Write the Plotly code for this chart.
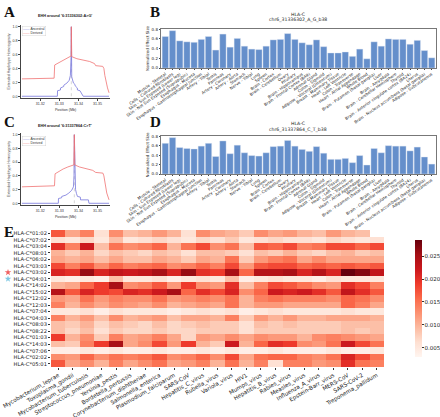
import plotly.graph_objects as go
import plotly.colors as pc

W, H = 440, 417
def fx(px): return px / W
def fy(py): return 1 - py / H

# ---------------- Panel A / C : EHH ----------------
a_core = 31.336302
a_anc_pos = [31.3105, 31.3290, 31.3291, 31.3306, 31.3307, 31.3323, 31.3324, 31.3340, 31.3352, 31.3358, 31.33615, 31.336302, 31.3365, 31.3372, 31.3374, 31.3382, 31.3383, 31.3394, 31.3395, 31.3408, 31.3421, 31.3425, 31.3560]
a_anc_ehh = [0.0, 0.0, 0.08, 0.09, 0.12, 0.14, 0.16, 0.19, 0.23, 0.30, 0.55, 1.0, 0.28, 0.22, 0.19, 0.17, 0.15, 0.12, 0.09, 0.08, 0.03, 0.0, 0.0]
a_der_pos = [31.3105, 31.3200, 31.3273, 31.3276, 31.3290, 31.3307, 31.3330, 31.3345, 31.3358, 31.3362, 31.336302, 31.3365, 31.3392, 31.3425, 31.3459, 31.3484, 31.3490, 31.3527, 31.3533, 31.3538, 31.3543, 31.3552, 31.3560]
a_der_ehh = [0.25, 0.255, 0.26, 0.45, 0.47, 0.50, 0.53, 0.55, 0.57, 0.58, 1.0, 0.57, 0.54, 0.52, 0.50, 0.47, 0.44, 0.43, 0.40, 0.30, 0.22, 0.12, 0.05]

c_core = 31.337864
c_anc_pos = [31.3105, 31.3295, 31.3296, 31.3312, 31.3313, 31.3335, 31.3350, 31.3365, 31.3374, 31.3377, 31.337864, 31.3381, 31.3385, 31.3390, 31.3395, 31.3410, 31.3411, 31.3452, 31.3455, 31.3560]
c_anc_ehh = [0.0, 0.0, 0.07, 0.08, 0.10, 0.12, 0.15, 0.19, 0.24, 0.40, 1.0, 0.35, 0.20, 0.14, 0.10, 0.09, 0.05, 0.05, 0.0, 0.0]
c_der_pos = [31.3105, 31.3275, 31.3278, 31.3295, 31.3320, 31.3345, 31.3362, 31.3376, 31.337864, 31.3381, 31.3405, 31.3440, 31.3475, 31.3490, 31.3528, 31.3533, 31.3540, 31.3548, 31.3560]
c_der_ehh = [0.24, 0.255, 0.43, 0.46, 0.50, 0.53, 0.55, 0.56, 1.0, 0.56, 0.53, 0.50, 0.48, 0.45, 0.44, 0.40, 0.25, 0.15, 0.05]

ehh_xticks = [31.32, 31.33, 31.34, 31.35]
ehh_yticks = [0.0, 0.2, 0.4, 0.6, 0.8, 1.0]

# ---------------- Panel B / D : eQTL bars ----------------
tissues = [
    "Muscle - Skeletal", "Cells - Cultured fibroblasts", "Skin - Sun Exposed (Lower leg)",
    "Skin - Not Sun Exposed (Suprapubic)", "Esophagus - Mucosa", "Esophagus - Gastroesophageal Junction",
    "Artery - Tibial", "Testis", "Pancreas", "Artery - Coronary", "Artery - Aorta", "Stomach",
    "Nerve - Tibial", "Lung", "Spleen", "Brain - Cortex", "Brain - Cerebellum", "Ovary",
    "Pituitary", "Brain - Hippocampus", "Brain - Frontal Cortex (BA9)", "Adrenal Gland",
    "Colon - Sigmoid", "Adipose - Visceral (Omentum)", "Breast - Mammary Tissue",
    "Heart - Left Ventricle", "Colon - Transverse", "Heart - Atrial Appendage", "Whole Blood",
    "Brain - Putamen (basal ganglia)", "Liver", "Brain - Amygdala", "Brain - Cerebellar Hemisphere",
    "Thyroid", "Brain - Anterior cingulate cortex (BA24)", "Uterus",
    "Brain - Nucleus accumbens (basal ganglia)", "Adipose - Subcutaneous",
]
nes_b = [0.65, 0.77, 0.56, 0.54, 0.53, 0.59, 0.65, 0.37, 0.70, 0.43, 0.61, 0.45, 0.39, 0.38,
         0.45, 0.58, 0.59, 0.71, 0.59, 0.52, 0.48, 0.58, 0.44, 0.31, 0.31, 0.33, 0.24, 0.39,
         0.19, 0.54, 0.45, 0.60, 0.59, 0.59, 0.49, 0.57, 0.36, 0.21]
nes_d = [0.65, 0.77, 0.56, 0.54, 0.53, 0.59, 0.65, 0.37, 0.70, 0.43, 0.61, 0.45, 0.39, 0.38,
         0.45, 0.58, 0.59, 0.71, 0.59, 0.52, 0.48, 0.58, 0.44, 0.31, 0.31, 0.33, 0.24, 0.39,
         0.19, 0.54, 0.45, 0.60, 0.59, 0.59, 0.49, 0.57, 0.36, 0.21]
bar_yticks = [0.0, 0.2, 0.4, 0.6, 0.8]

# ---------------- Panel E : heatmap ----------------
alleles = ["HLA-C*01:02", "HLA-C*07:02", "HLA-C*03:04", "HLA-C*08:01", "HLA-C*06:02",
           "HLA-C*03:03", "HLA-C*03:02", "HLA-C*04:01", "HLA-C*14:02", "HLA-C*15:02",
           "HLA-C*12:02", "HLA-C*12:03", "HLA-C*07:04", "HLA-C*04:03", "HLA-C*08:03",
           "HLA-C*08:22", "HLA-C*01:03", "HLA-C*14:03", "HLA-C*07:06", "HLA-C*02:02",
           "HLA-C*05:01"]
pathogens = ["Mycobacterium_leprae", "Toxoplasma_gondii", "Mycobacterium_tuberculosis",
             "Streptococcus_pneumoniae", "Yersinia_pestis", "Bordetella_pertussis",
             "Corynebacterium_diphtheriae", "Salmonella_enterica", "Plasmodium_falciparum",
             "SARS-CoV", "Hepatitis_C_virus", "Rubella_virus", "Variola_virus", "HIV1",
             "Mumps_virus", "Hepatitis_B_virus", "Rabies_virus", "Measles_virus",
             "Influenza_A_virus", "Epstein-Barr_virus", "MERS-CoV", "SARS-CoV-2",
             "Treponema_pallidum"]
heat_values = [
    [0.017,0.011,0.014,0.006,0.013,0.009,0.010,0.012,0.010,0.006,0.013,0.011,0.010,0.008,0.013,0.011,0.012,0.010,0.009,0.012,0.010,0.009,None],
    [0.006,0.005,0.007,0.005,0.009,0.005,0.006,0.007,0.006,0.005,0.007,0.006,0.008,0.005,0.006,0.007,0.006,0.006,0.005,0.007,0.006,0.005,0.006],
    [0.020,0.014,0.022,0.009,0.015,0.013,0.014,0.016,0.010,0.015,0.018,0.013,0.015,0.009,0.017,0.016,0.018,0.014,0.015,0.018,0.018,0.016,0.018],
    [0.010,0.008,0.010,0.007,0.009,0.008,0.007,0.009,0.008,0.006,0.009,0.009,0.008,0.006,0.009,0.008,0.010,0.008,0.007,0.009,0.010,0.008,0.009],
    [0.011,0.010,0.011,0.009,0.011,0.009,0.009,0.011,0.010,0.008,0.011,0.010,0.015,0.008,0.012,0.014,0.015,0.011,0.013,0.011,0.011,0.011,0.011],
    [0.018,0.014,0.017,0.013,0.016,0.014,0.015,0.016,0.013,0.014,0.016,0.014,0.018,0.012,0.017,0.018,0.018,0.016,0.017,0.016,0.017,0.016,0.017],
    [0.021,0.020,0.026,0.021,0.023,0.022,0.023,0.025,0.021,0.026,0.020,0.019,0.025,0.016,0.024,0.024,0.025,0.021,0.024,0.021,0.0285,0.027,0.023],
    [0.005,0.004,0.005,0.004,0.009,0.005,0.005,0.006,0.004,0.005,0.006,0.005,0.009,0.004,0.005,0.006,0.005,0.005,0.004,0.006,0.005,0.005,0.005],
    [0.010,0.011,0.016,0.019,0.025,0.013,0.014,0.017,0.012,0.019,0.013,0.012,0.020,0.009,0.014,0.018,0.017,0.015,0.013,0.012,0.020,0.018,0.014],
    [0.024,0.017,0.021,0.019,0.018,0.021,0.020,0.022,0.025,0.016,0.020,0.018,0.021,0.013,0.016,0.022,0.021,0.022,0.020,0.017,0.023,0.020,0.017],
    [0.012,0.011,0.015,0.012,0.014,0.013,0.013,0.015,0.012,0.013,0.014,0.013,0.015,0.010,0.014,0.015,0.014,0.014,0.014,0.013,0.016,0.015,0.013],
    [0.014,0.010,0.013,0.011,0.013,0.012,0.011,0.013,0.010,0.011,0.012,0.011,0.015,0.010,0.012,0.012,0.011,0.011,0.011,0.011,0.016,0.014,0.011],
    [0.005,0.005,0.006,0.004,0.006,0.005,0.005,0.005,0.004,0.005,0.006,0.005,0.006,0.004,0.005,0.006,0.005,0.005,0.005,0.005,0.006,0.005,0.005],
    [0.014,0.010,0.012,0.009,0.013,0.010,0.011,0.012,0.009,0.011,0.011,0.010,0.014,0.008,0.012,0.010,0.012,0.010,0.010,0.011,0.011,0.011,0.010],
    [0.009,0.008,0.010,0.007,0.009,0.008,0.007,0.009,0.007,0.008,0.009,0.008,0.008,0.006,0.009,0.008,0.009,0.008,0.008,0.008,0.009,0.009,0.009],
    [0.009,0.007,0.009,0.006,0.008,0.007,0.007,0.008,0.007,0.007,0.008,0.008,0.008,0.006,0.008,0.008,0.008,0.008,0.008,0.008,0.009,0.008,0.009],
    [0.019,0.010,0.013,0.008,0.014,0.011,0.012,0.014,0.011,0.007,0.012,0.011,0.013,0.011,0.013,0.012,0.012,0.010,0.013,0.014,0.013,0.012,0.011],
    [0.009,0.008,0.014,0.019,0.025,0.011,0.013,0.018,0.012,0.019,0.010,0.008,0.022,0.010,0.016,0.020,0.019,0.013,0.012,0.015,0.022,0.018,0.015],
    [0.004,0.004,0.005,0.004,0.005,0.004,0.004,0.005,0.004,0.004,0.005,0.004,0.005,0.004,0.004,0.005,0.004,0.004,0.004,0.005,0.004,0.004,0.005],
    [0.013,0.012,0.016,0.013,0.015,0.014,0.015,0.017,0.013,0.014,0.016,0.013,0.018,0.011,0.015,0.016,0.016,0.014,0.013,0.015,0.021,0.018,0.015],
    [0.017,0.011,0.013,0.010,0.014,0.011,0.013,0.015,0.011,0.012,0.014,0.010,0.015,0.010,0.014,0.006,0.014,0.014,0.012,0.013,0.020,0.015,0.014],
]
cbar_ticks = [0.005, 0.010, 0.015, 0.020, 0.025]
starred_alleles = ["HLA-C*03:02", "HLA-C*04:01"]
star_colors = ["#f06060", "#7ec8e3"]

BLUE_L = "#7676dc"
RED_L = "#f07272"
BAR_C = "#658fcb"
MPL = "DejaVu Sans"
RF = "Liberation Sans"

fig = go.Figure()

# EHH traces
for core, apos, aehh, dpos, dehh, xa, ya in [
    (a_core, a_anc_pos, a_anc_ehh, a_der_pos, a_der_ehh, "x", "y"),
    (c_core, c_anc_pos, c_anc_ehh, c_der_pos, c_der_ehh, "x3", "y3"),
]:
    fig.add_trace(go.Scatter(x=[core, core], y=[0, 1], mode="lines",
                             line=dict(color="#bbbbbb", width=0.6, dash="dot"),
                             xaxis=xa, yaxis=ya, showlegend=False, hoverinfo="skip"))
    fig.add_trace(go.Scatter(x=apos, y=aehh, mode="lines", line=dict(color=BLUE_L, width=0.8),
                             xaxis=xa, yaxis=ya, showlegend=False, name="Ancestral"))
    fig.add_trace(go.Scatter(x=dpos, y=dehh, mode="lines", line=dict(color=RED_L, width=0.8),
                             xaxis=xa, yaxis=ya, showlegend=False, name="Derived"))

# Bars
fig.add_trace(go.Bar(x=tissues, y=nes_b, marker=dict(color=BAR_C, line=dict(color="#dfe7f3", width=0.4)),
                     xaxis="x2", yaxis="y2", showlegend=False))
fig.add_trace(go.Bar(x=tissues, y=nes_d, marker=dict(color=BAR_C, line=dict(color="#dfe7f3", width=0.4)),
                     xaxis="x4", yaxis="y4", showlegend=False))

# Heatmap
fig.add_trace(go.Heatmap(
    z=heat_values, x=pathogens, y=alleles, colorscale=pc.sequential.Reds,
    zmin=0.003, zmax=0.0285, xaxis="x5", yaxis="y5", hoverongaps=False,
    colorbar=dict(x=fx(405), xanchor="left", y=fy(230), yanchor="top",
                  len=137 / H, lenmode="fraction", thickness=7, outlinewidth=0,
                  tickvals=cbar_ticks, ticktext=[f"{t:.3f}" for t in cbar_ticks],
                  ticks="outside", ticklen=2, tickwidth=0.6, tickcolor="#333",
                  tickfont=dict(size=5.5, family=MPL, color="#222")),
))
fig.add_trace(go.Scatter(x=[0.5] * len(starred_alleles), y=starred_alleles, mode="markers",
                         marker=dict(symbol="star", size=5, color=star_colors),
                         xaxis="x6", yaxis="y5", showlegend=False))

ehh_x = dict(range=[31.3100, 31.3565], tickvals=ehh_xticks, ticktext=[f"{t:.2f}" for t in ehh_xticks],
             showline=True, linecolor="#444", linewidth=0.5, ticks="outside", ticklen=2, tickwidth=0.5,
             tickcolor="#444", tickfont=dict(size=3.6, family=RF, color="#333"), showgrid=False, zeroline=False,
             automargin=False,
             title=dict(text="Position (Mb)", font=dict(size=3.6, family=RF, color="#333"), standoff=3))
ehh_y = dict(range=[-0.025, 1.025], tickvals=ehh_yticks, ticktext=[f"{t:.1f}" for t in ehh_yticks],
             showline=True, linecolor="#444", linewidth=0.5, ticks="outside", ticklen=2, tickwidth=0.5,
             tickcolor="#444", tickfont=dict(size=3.6, family=RF, color="#333"), showgrid=False, zeroline=False,
             automargin=False,
             title=dict(text="Extended Haplotype Homozygosity", font=dict(size=3.6, family=RF, color="#333"), standoff=2))
bar_x = dict(type="category", range=[-0.6, 37.6], tickangle=-35, showline=True, mirror=True,
             linecolor="#777", linewidth=0.5, ticks="outside", ticklen=1.5, tickwidth=0.4, tickcolor="#444",
             tickfont=dict(size=4, family=MPL, color="#222"), showgrid=False, automargin=False)
bar_y = dict(range=[0, 0.805], tickvals=bar_yticks, ticktext=[f"{t:.1f}" for t in bar_yticks],
             showline=True, mirror=True, linecolor="#777", linewidth=0.5, ticks="outside", ticklen=1.5,
             tickwidth=0.4, tickcolor="#444", tickfont=dict(size=4, family=MPL, color="#222"),
             showgrid=False, zeroline=False, automargin=False,
             title=dict(text="Normalized Effect Size", font=dict(size=4, family=MPL, color="#222"), standoff=2))

layout = dict(
    width=W, height=H, margin=dict(l=0, r=0, t=0, b=0, autoexpand=False),
    paper_bgcolor="white", plot_bgcolor="white",
    bargap=0.12, showlegend=False,
    xaxis=dict(ehh_x, domain=[fx(21), fx(110)], anchor="y"),
    yaxis=dict(ehh_y, domain=[fy(98), fy(25)], anchor="x"),
    xaxis3=dict(ehh_x, domain=[fx(21), fx(110)], anchor="y3"),
    yaxis3=dict(ehh_y, domain=[fy(205), fy(133)], anchor="x3"),
    xaxis2=dict(bar_x, domain=[fx(161), fx(436)], anchor="y2"),
    yaxis2=dict(bar_y, domain=[fy(68), fy(29)], anchor="x2"),
    xaxis4=dict(bar_x, domain=[fx(161), fx(436)], anchor="y4"),
    yaxis4=dict(bar_y, domain=[fy(174), fy(136)], anchor="x4"),
    xaxis5=dict(domain=[fx(51), fx(384)], anchor="y5", tickangle=-30, ticks="outside", ticklen=2,
                tickwidth=0.6, tickcolor="#333", tickfont=dict(size=5.6, family=MPL, color="#222"),
                showgrid=False, showline=False, zeroline=False, automargin=False),
    yaxis5=dict(domain=[fy(367), fy(230)], anchor="x5", autorange="reversed", ticks="outside", ticklen=2,
                tickwidth=0.6, tickcolor="#333", tickfont=dict(size=5.2, family=MPL, color="#222"),
                showgrid=False, showline=False, zeroline=False, automargin=False),
    xaxis6=dict(domain=[fx(4), fx(12)], anchor="y5", range=[0, 1], visible=False, automargin=False),
)
fig.update_layout(**layout)

ann = []
def text(x, y, s, size, fam=MPL, bold=False, color="#222", xa="center", ya="middle"):
    ann.append(dict(x=fx(x), y=fy(y), xref="paper", yref="paper", text=(f"<b>{s}</b>" if bold else s),
                    showarrow=False, xanchor=xa, yanchor=ya, font=dict(size=size, family=fam, color=color)))

for L, (x, y) in zip("ABCDE", [(2, 2), (148, 2), (2, 112), (148, 112), (2, 222)]):
    text(x, y, L, 15, fam="Liberation Serif", bold=True, color="#111", xa="left", ya="top")

text(65, 16, "EHH around '6:31336302:A&gt;G'", 3.8, fam=RF, bold=True)
text(65, 126, "EHH around '6:31337864:C&gt;T'", 3.8, fam=RF, bold=True)
text(298, 14, "HLA-C", 4.6)
text(298, 20, "chr6_31336302_A_G_b38", 4.6)
text(298, 124, "HLA-C", 4.6)
text(298, 130, "chr6_31337864_C_T_b38", 4.6)

for y in (29, 139):
    ann.append(dict(x=fx(22), y=fy(y - 3), xref="paper", yref="paper", showarrow=False,
                    xanchor="left", yanchor="top", align="left",
                    text=f"<span style='color:{BLUE_L}'>——</span> Ancestral<br><span style='color:{RED_L}'>——</span> Derived",
                    font=dict(size=3.4, family=RF, color="#333"),
                    bordercolor="#cccccc", borderwidth=0.4, borderpad=0.5, bgcolor="white"))

fig.update_layout(annotations=ann)
fig.write_html("out.html", config={"displayModeBar": False},
               post_script="document.body.style.margin='0';document.body.style.padding='0';")
